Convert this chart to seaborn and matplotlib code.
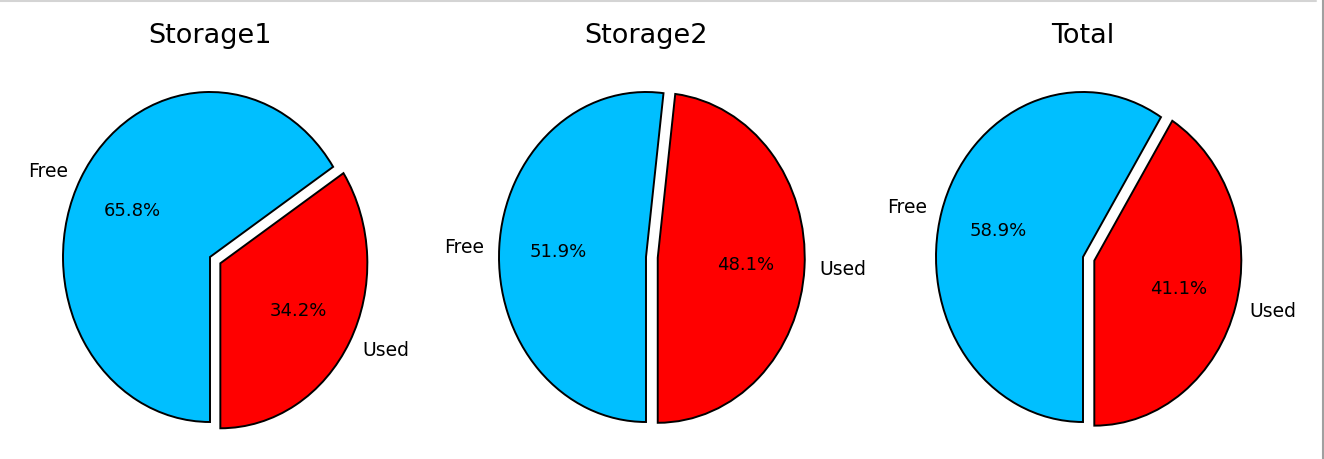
import matplotlib
matplotlib.use("Agg")
import matplotlib.pyplot as plt
from matplotlib.lines import Line2D
import seaborn as sns

# Daten
titles = ["Storage1", "Storage2", "Total"]
labels = ["Used", "Free"]
used_pct = [34.2, 48.1, 41.1]
free_pct = [65.8, 51.9, 58.9]

sns.set_theme(style="white")
plt.rcParams['font.family'] = ['DejaVu Sans']
plt.rcParams['text.color'] = 'black'
colors = sns.color_palette(["#ff0000", "#00bfff"])

fig = plt.figure(figsize=(13.24, 4.6), dpi=100)
W, H = 1324, 460

# pie centres in pixels, radius 147 x 165 px
centres = [210, 646, 1083]
cy = 202
rx, ry = 147, 165
lim = 1.2

for i, title in enumerate(titles):
    aw, ah = 2 * lim * rx, 2 * lim * ry
    ax = fig.add_axes([(centres[i] - aw / 2) / W, (cy - ah / 2) / H, aw / W, ah / H])
    ax.pie([used_pct[i], free_pct[i]], labels=labels, colors=colors,
           explode=(0.08, 0), startangle=-90, autopct='%1.1f%%',
           wedgeprops={'edgecolor': 'black', 'linewidth': 1.4},
           textprops={'fontsize': 13.5, 'color': 'black'})
    for t in ax.texts:
        if t.get_text().endswith('%'):
            t.set_fontsize(13)
    ax.set_aspect('auto')
    ax.set_xlim(-lim, lim)
    ax.set_ylim(-lim, lim)
    ax.set_title(title, fontsize=19.5, pad=12, color='black')

# Rahmen
fig.add_artist(Line2D([0, 1316 / W], [1 - 1.5 / H, 1 - 1.5 / H], color='#d4d4d4', lw=1.5))
fig.add_artist(Line2D([1 - 1.5 / W, 1 - 1.5 / W], [0, 1], color='#a0a0a0', lw=1.5))

fig.savefig("out.png", dpi=100, facecolor='white')
